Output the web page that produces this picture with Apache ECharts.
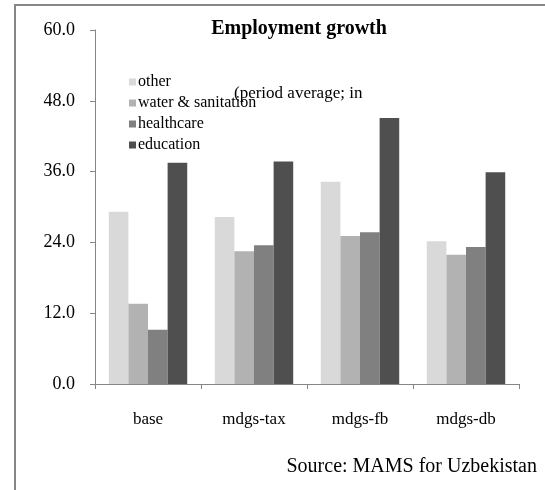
<!DOCTYPE html>
<html lang="en">
<head>
    <meta charset="UTF-8">
    <title>Employment growth</title>
    <script src="https://cdn.jsdelivr.net/npm/echarts@6/dist/echarts.min.js"></script>
    <style>
        html, body { margin: 0; padding: 0; background: #fff; }
        #chart { width: 545px; height: 490px; }
    </style>
</head>
<body>
<div id="chart"></div>
<script type="text/javascript">
    var categories = ["base", "mdgs-tax", "mdgs-fb", "mdgs-db"];
    var other = [29.2, 28.3, 34.3, 24.2];
    var waterSanitation = [13.6, 22.5, 25.1, 21.9];
    var healthcare = [9.2, 23.5, 25.7, 23.2];
    var education = [37.5, 37.7, 45.1, 35.9];
    var yTicks = [0, 12, 24, 36, 48, 60];

    var font = "Liberation Serif, Times New Roman, serif";
    var myChart = echarts.init(document.getElementById('chart'));

    function bar(name, data, color) {
        return {
            name: name,
            type: 'bar',
            data: data,
            barGap: '0%',
            barCategoryGap: '26%',
            itemStyle: { color: color },
            emphasis: { disabled: true }
        };
    }

    var option = {
        animation: false,
        textStyle: { fontFamily: font },
        title: [{
            text: 'Employment growth',
            left: 294, top: 14, textAlign: 'center',
            textStyle: { fontFamily: font, fontSize: 20, fontWeight: 'bold', color: '#000' }
        }, {
            text: '(period average; in',
            left: 229, top: 80,
            textStyle: { fontFamily: font, fontSize: 17, fontWeight: 'normal', color: '#000' }
        }, {
            text: 'Source: MAMS for Uzbekistan',
            right: 3, top: 452,
            textStyle: { fontFamily: font, fontSize: 20, fontWeight: 'normal', color: '#000' }
        }],
        legend: {
            orient: 'vertical',
            left: 124, top: 69,
            itemWidth: 7, itemHeight: 7,
            itemGap: 5,
            icon: 'rect',
            textStyle: { fontFamily: font, fontSize: 16, color: '#000', padding: [0, 0, 0, -3] },
            data: ['other', 'water & sanitation', 'healthcare', 'education']
        },
        grid: { left: 95, top: 30, width: 424, height: 354 },
        xAxis: {
            type: 'category',
            data: categories,
            axisLine: { lineStyle: { color: '#868686' } },
            axisTick: { show: true, length: 5, lineStyle: { color: '#868686' } },
            axisLabel: { color: '#000', fontFamily: font, fontSize: 17, margin: 27 }
        },
        yAxis: {
            type: 'value',
            min: yTicks[0], max: yTicks[yTicks.length - 1], interval: 12,
            axisLine: { show: true, lineStyle: { color: '#868686' } },
            axisTick: { show: true, length: 5, lineStyle: { color: '#868686' } },
            splitLine: { show: false },
            axisLabel: {
                color: '#000', fontFamily: font, fontSize: 18, margin: 20,
                formatter: function (v) { return v.toFixed(1); }
            }
        },
        series: [
            bar('other', other, '#d9d9d9'),
            bar('water & sanitation', waterSanitation, '#b2b2b2'),
            bar('healthcare', healthcare, '#808080'),
            bar('education', education, '#4f4f4f')
        ],
        graphic: [{
            type: 'rect',
            shape: { x: 15, y: 5, width: 600, height: 600 },
            style: { fill: 'none', stroke: '#868686', lineWidth: 2 },
            silent: true
        }]
    };
    myChart.setOption(option);
</script>
</body>
</html>
